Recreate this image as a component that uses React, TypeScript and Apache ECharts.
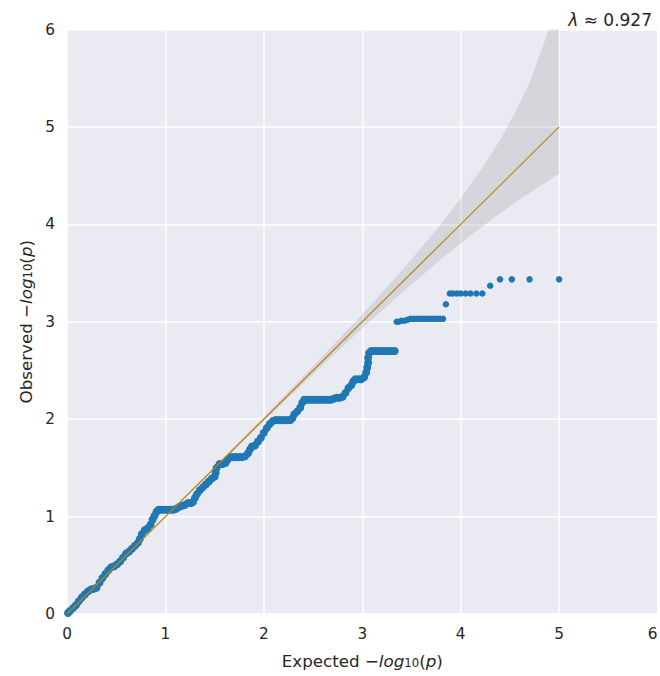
import { useEffect, useRef } from "react";
import * as echarts from "echarts";

// Q-Q plot of GWAS p-values: expected vs observed -log10(p)

// Dense part of the trace (expected -log10 p, observed -log10 p)
const denseExpected = [
  0.01, 0.03, 0.06, 0.09, 0.12, 0.15, 0.18, 0.21, 0.24, 0.27, 0.3, 0.33, 0.36, 0.39, 0.42, 0.45, 0.48,
  0.51, 0.54, 0.57, 0.6, 0.63, 0.66, 0.69, 0.72, 0.74, 0.76, 0.79, 0.82, 0.85, 0.87, 0.89, 0.91, 0.93,
  0.96, 0.99, 1.02, 1.05, 1.08, 1.11, 1.14, 1.17, 1.2, 1.23, 1.26, 1.28, 1.3, 1.32, 1.35, 1.38, 1.41,
  1.44, 1.47, 1.5, 1.51, 1.52, 1.55, 1.58, 1.61, 1.63, 1.66, 1.69, 1.72, 1.75, 1.78, 1.81, 1.84, 1.86,
  1.88, 1.91, 1.94, 1.97, 2.0, 2.03, 2.06, 2.09, 2.12, 2.15, 2.18, 2.21, 2.24, 2.27, 2.29, 2.31, 2.34,
  2.37, 2.39, 2.41, 2.44, 2.47, 2.5, 2.53, 2.56, 2.59, 2.62, 2.65, 2.68, 2.71, 2.74, 2.77, 2.8, 2.83,
  2.86, 2.89, 2.91, 2.93, 2.96, 2.99, 3.02, 3.04, 3.05, 3.06, 3.06, 3.07, 3.09, 3.12, 3.15, 3.18, 3.21,
  3.24, 3.27, 3.3, 3.33,
];
const denseObserved = [
  0.01, 0.03, 0.06, 0.09, 0.13, 0.17, 0.2, 0.23, 0.25, 0.26, 0.27, 0.32, 0.37, 0.41, 0.45, 0.48, 0.49,
  0.51, 0.54, 0.58, 0.62, 0.64, 0.67, 0.7, 0.73, 0.77, 0.82, 0.86, 0.88, 0.92, 0.97, 1.01, 1.05, 1.07,
  1.07, 1.07, 1.07, 1.07, 1.07, 1.08, 1.1, 1.11, 1.12, 1.14, 1.14, 1.15, 1.19, 1.23, 1.27, 1.3, 1.33,
  1.36, 1.39, 1.41, 1.45, 1.5, 1.54, 1.54, 1.55, 1.58, 1.61, 1.61, 1.61, 1.61, 1.61, 1.62, 1.65, 1.69,
  1.72, 1.73, 1.77, 1.81, 1.86, 1.91, 1.95, 1.98, 1.99, 1.99, 1.99, 1.99, 1.99, 1.99, 2.01, 2.05, 2.08,
  2.12, 2.17, 2.2, 2.2, 2.2, 2.2, 2.2, 2.2, 2.2, 2.2, 2.2, 2.2, 2.21, 2.22, 2.22, 2.23, 2.27,
  2.32, 2.35, 2.39, 2.41, 2.41, 2.41, 2.43, 2.48, 2.53, 2.58, 2.63, 2.68, 2.7, 2.7, 2.7, 2.7, 2.7,
  2.7, 2.7, 2.7, 2.7,
];

// Sparse tail of the strongest associations
const tailExpected = [
  3.35, 3.37, 3.4, 3.43, 3.46, 3.49, 3.52, 3.55, 3.58, 3.61, 3.64, 3.67, 3.7, 3.73, 3.76, 3.79, 3.82,
  3.85, 3.89, 3.92, 3.96, 4.0, 4.05, 4.1, 4.16, 4.22, 4.3, 4.4, 4.52, 4.7, 5.0,
];
const tailObserved = [
  3.0, 3.0, 3.01, 3.01, 3.02, 3.03, 3.03, 3.03, 3.03, 3.03, 3.03, 3.03, 3.03, 3.03, 3.03, 3.03, 3.03,
  3.18, 3.29, 3.29, 3.29, 3.29, 3.29, 3.29, 3.29, 3.29, 3.37, 3.435, 3.435, 3.435, 3.435,
];

// 90% confidence band around the null diagonal
const bandExpected = [
  0, 0.5, 1, 1.5, 2, 2.5, 3, 3.25, 3.5, 3.75, 4, 4.05, 4.15, 4.2, 4.3, 4.35, 4.4, 4.46, 4.52, 4.6,
  4.65, 4.7, 4.75, 4.8, 4.85, 4.9, 4.95, 5,
];
const bandUpper = [
  0, 0.503, 1.007, 1.513, 2.023, 2.542, 3.075, 3.354, 3.64, 3.94, 4.266, 4.335, 4.483, 4.551, 4.706,
  4.785, 4.864, 4.974, 5.087, 5.245, 5.35, 5.45, 5.59, 5.73, 5.87, 6.01, 6.15, 6.29,
];
const bandLower = [
  0, 0.497, 0.993, 1.487, 1.978, 2.461, 2.932, 3.162, 3.38, 3.6, 3.804, 3.845, 3.927, 3.962, 4.038,
  4.075, 4.11, 4.156, 4.2, 4.257, 4.291, 4.32, 4.355, 4.39, 4.42, 4.45, 4.49, 4.52,
];

// Null diagonal
const diagonal = [
  [0, 0],
  [5, 5],
];

const tickLabels = ["0", "1", "2", "3", "4", "5", "6"];
const lambdaText = "0.927";

const FONT = "DejaVu Sans";
const INK = "#262626";
const POINT = "#1f77b4";

export default function App() {
  const ref = useRef<HTMLDivElement>(null);

  useEffect(() => {
    document.body.style.margin = "0";
    if (!ref.current) return;
    const chart = echarts.init(ref.current, undefined, { renderer: "svg" });

    const axisRich = {
      i: { fontStyle: "italic", fontSize: 16.7, fontFamily: FONT, color: INK },
      s: { fontSize: 11.7, fontFamily: FONT, color: INK, verticalAlign: "bottom", lineHeight: 14 },
    };

    const axisCommon = {
      type: "value" as const,
      min: 0,
      max: 6,
      interval: 1,
      axisLine: { show: false },
      axisTick: { show: false },
      splitLine: { show: true, lineStyle: { color: "#ffffff", width: 1.5 } },
      nameLocation: "middle" as const,
      nameTextStyle: { fontSize: 16.7, fontFamily: FONT, color: INK, rich: axisRich },
    };

    const tickLabel = (margin: number) => ({
      fontSize: 15.3,
      fontFamily: FONT,
      color: INK,
      margin,
      formatter: (v: number) => tickLabels[Math.round(v)] ?? "",
    });

    chart.setOption({
      animation: false,
      backgroundColor: "#ffffff",
      title: {
        text: "{i|λ} ≈ " + lambdaText,
        right: 3,
        top: 6,
        textStyle: {
          fontSize: 17,
          fontWeight: "normal",
          fontFamily: FONT,
          color: INK,
          rich: {
            i: { fontStyle: "italic", fontSize: 17, fontFamily: FONT, color: INK },
          },
        },
      },
      grid: {
        left: 67,
        right: 2.5,
        top: 29.5,
        bottom: 62,
        show: true,
        backgroundColor: "#EAEAF2",
        borderWidth: 0,
        outerBoundsMode: "none",
      },
      xAxis: {
        ...axisCommon,
        name: "Expected −{i|log}{s|10}({i|p})",
        nameGap: 38,
        axisLabel: { ...tickLabel(12), alignMaxLabel: "right" },
      },
      yAxis: {
        ...axisCommon,
        name: "Observed −{i|log}{s|10}({i|p})",
        nameGap: 33,
        axisLabel: tickLabel(12),
      },
      series: [
        {
          // confidence band as one polygon: upper edge out, lower edge back
          type: "custom",
          clip: true,
          silent: true,
          z: 1,
          data: [0],
          renderItem: (_params: any, api: any) => {
            const pts: number[][] = [];
            bandExpected.forEach((x, k) => pts.push(api.coord([x, bandUpper[k]])));
            for (let k = bandExpected.length - 1; k >= 0; k--) {
              pts.push(api.coord([bandExpected[k], bandLower[k]]));
            }
            return {
              type: "polygon",
              shape: { points: pts },
              style: { fill: "rgba(128,128,128,0.2)", stroke: "none" },
            };
          },
        },
        {
          type: "scatter",
          data: denseExpected.map((x, k) => [x, denseObserved[k]]),
          symbol: "circle",
          symbolSize: 8,
          itemStyle: { color: POINT, opacity: 1 },
          z: 2,
        },
        {
          type: "scatter",
          data: tailExpected.map((x, k) => [x, tailObserved[k]]),
          symbol: "circle",
          symbolSize: 6.5,
          itemStyle: { color: POINT, opacity: 1 },
          z: 2,
        },
        {
          type: "line",
          data: diagonal,
          symbol: "none",
          lineStyle: { color: "#b8860b", width: 1.2 },
          z: 3,
        },
      ],
    });

    return () => chart.dispose();
  }, []);

  return (
    <div
      ref={ref}
      style={{ position: "absolute", left: 0, top: 0, width: 660, height: 676 }}
    />
  );
}
